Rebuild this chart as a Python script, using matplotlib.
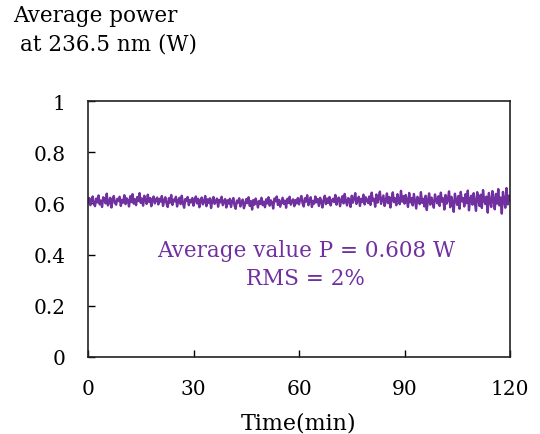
import numpy as np
import matplotlib
matplotlib.use("Agg")
import matplotlib.pyplot as plt

# Sampling: every 1/3 min from 0 to 120 min (361 samples)
time_min = np.linspace(0, 120, 361)

power_w = [
    0.608, 0.621, 0.593, 0.615, 0.627, 0.598, 0.589, 0.619, 0.604, 0.631, 0.596, 0.611, 0.586, 0.624, 0.617, 0.600, 0.638, 0.592, 0.606, 0.622, 0.584, 0.613, 0.629, 0.601, 0.595, 0.618, 0.609, 0.626, 0.590, 0.614,
    0.603, 0.632, 0.597, 0.620, 0.611, 0.588, 0.628, 0.605, 0.636, 0.599, 0.616, 0.593, 0.625, 0.609, 0.640, 0.602, 0.619, 0.591, 0.630, 0.612, 0.598, 0.634, 0.606, 0.621, 0.589, 0.617, 0.627, 0.600, 0.614, 0.623,
    0.596, 0.618, 0.607, 0.629, 0.590, 0.612, 0.624, 0.599, 0.586, 0.620, 0.603, 0.633, 0.594, 0.615, 0.608, 0.626, 0.588, 0.611, 0.622, 0.597, 0.630, 0.601, 0.583, 0.617, 0.609, 0.625, 0.593, 0.614, 0.604, 0.621,
    0.591, 0.613, 0.627, 0.600, 0.618, 0.585, 0.610, 0.623, 0.596, 0.606, 0.629, 0.589, 0.616, 0.602, 0.620, 0.582, 0.611, 0.625, 0.598, 0.607, 0.619, 0.587, 0.614, 0.604, 0.626, 0.593, 0.609, 0.617, 0.584, 0.612,
    0.599, 0.618, 0.586, 0.608, 0.621, 0.592, 0.579, 0.611, 0.603, 0.620, 0.588, 0.606, 0.615, 0.581, 0.597, 0.617, 0.601, 0.624, 0.590, 0.609, 0.576, 0.613, 0.595, 0.619, 0.604, 0.584, 0.610, 0.598, 0.622, 0.593,
    0.607, 0.585, 0.616, 0.600, 0.624, 0.591, 0.612, 0.603, 0.580, 0.619, 0.608, 0.627, 0.594, 0.614, 0.587, 0.605, 0.622, 0.598, 0.611, 0.583, 0.618, 0.602, 0.626, 0.595, 0.609, 0.616, 0.589, 0.613, 0.600, 0.621,
    0.596, 0.615, 0.629, 0.601, 0.588, 0.620, 0.607, 0.632, 0.593, 0.612, 0.624, 0.586, 0.610, 0.599, 0.627, 0.604, 0.617, 0.590, 0.622, 0.608, 0.584, 0.614, 0.630, 0.597, 0.619, 0.602, 0.625, 0.592, 0.611, 0.618,
    0.605, 0.633, 0.595, 0.617, 0.623, 0.589, 0.612, 0.628, 0.600, 0.637, 0.608, 0.592, 0.621, 0.615, 0.586, 0.630, 0.603, 0.619, 0.640, 0.598, 0.611, 0.626, 0.590, 0.618, 0.606, 0.634, 0.596, 0.624, 0.613, 0.601,
    0.627, 0.594, 0.642, 0.610, 0.618, 0.587, 0.635, 0.603, 0.622, 0.646, 0.598, 0.614, 0.631, 0.590, 0.608, 0.639, 0.601, 0.625, 0.584, 0.617, 0.643, 0.605, 0.620, 0.593, 0.636, 0.611, 0.597, 0.649, 0.607, 0.628,
    0.599, 0.633, 0.612, 0.586, 0.641, 0.604, 0.621, 0.592, 0.637, 0.609, 0.580, 0.626, 0.615, 0.597, 0.644, 0.602, 0.618, 0.588, 0.630, 0.574, 0.611, 0.639, 0.595, 0.623, 0.606, 0.583, 0.635, 0.613, 0.600, 0.628,
    0.590, 0.642, 0.607, 0.620, 0.576, 0.633, 0.599, 0.615, 0.647, 0.585, 0.626, 0.604, 0.567, 0.638, 0.612, 0.594, 0.629, 0.579, 0.645, 0.608, 0.621, 0.588, 0.636, 0.601, 0.650, 0.573, 0.617, 0.630, 0.595, 0.640,
    0.603, 0.571, 0.644, 0.619, 0.590, 0.634, 0.582, 0.652, 0.610, 0.597, 0.627, 0.564, 0.641, 0.606, 0.586, 0.648, 0.615, 0.577, 0.637, 0.599, 0.656, 0.592, 0.623, 0.560, 0.645, 0.611, 0.583, 0.660, 0.596, 0.630,
    0.612,
]

x_ticks = [0, 30, 60, 90, 120]
y_ticks = [0, 0.2, 0.4, 0.6, 0.8, 1]
y_tick_labels = ["0", "0.2", "0.4", "0.6", "0.8", "1"]

purple = "#7030A0"
plt.rcParams["font.family"] = ["DejaVu Serif"]

fig = plt.figure(figsize=(5.4, 4.35), dpi=100)
ax = fig.add_axes([88 / 540, 1 - 358 / 435, (510 - 88) / 540, (358 - 102) / 435])
ax.plot(time_min, power_w, color=purple, lw=1.7)
ax.set_xlim(0, 120)
ax.set_ylim(0, 1)
ax.set_xticks(x_ticks)
ax.set_yticks(y_ticks)
ax.set_yticklabels(y_tick_labels)
ax.tick_params(direction="in", length=5, width=1, labelsize=14.5, pad=16)
for s in ax.spines.values():
    s.set_linewidth(1.2)
    s.set_color("#222222")
ax.set_xlabel("Time(min)", fontsize=16)
ax.xaxis.set_label_coords(0.5, -0.212)

fig.text(13 / 540, 1 - 16 / 435, "Average power", fontsize=15.5, va="center", ha="left")
fig.text(20 / 540, 1 - 45 / 435, "at 236.5 nm (W)", fontsize=15.5, va="center", ha="left")

ax.text(0.516, 0.363, "Average value P = 0.608 W\nRMS = 2%", transform=ax.transAxes,
        ha="center", va="center", color=purple, fontsize=15.5, linespacing=1.4)

fig.savefig("out.png", dpi=100)
